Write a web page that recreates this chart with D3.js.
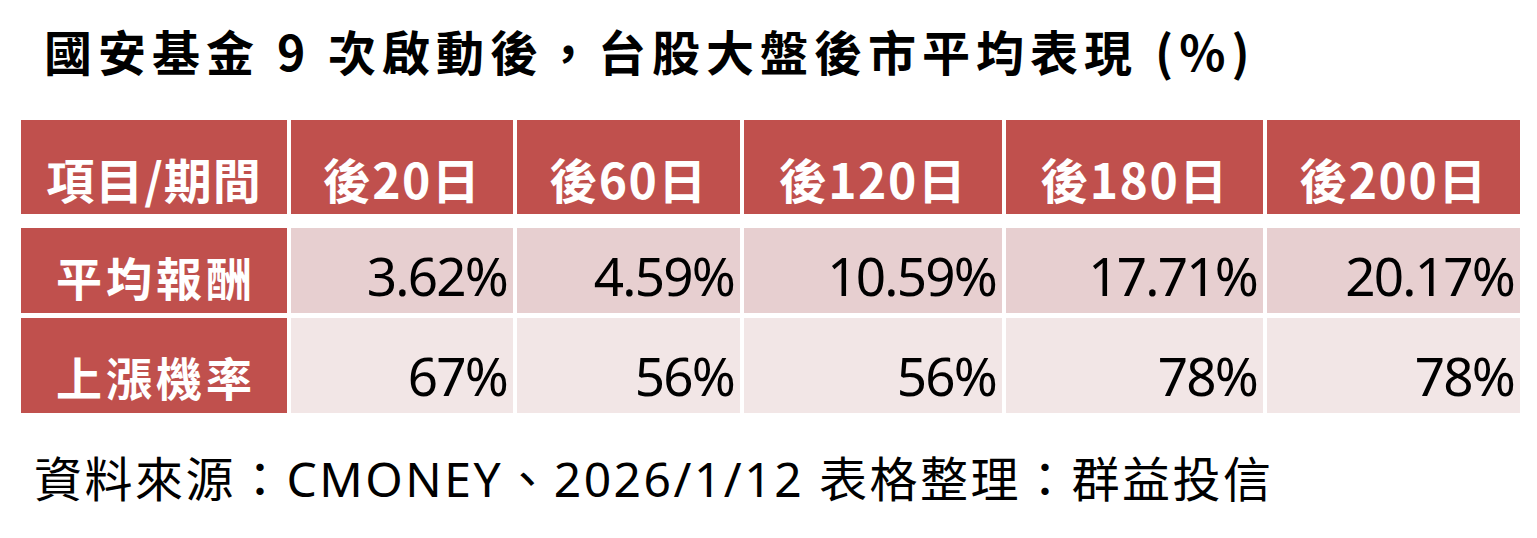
<!DOCTYPE html>
<html>
<head>
<meta charset="utf-8">
<script src="https://cdn.jsdelivr.net/npm/d3@7"></script>
<style>
  html, body { margin: 0; padding: 0; background: #fff; }
  svg { display: block; }
  .cjk { font-family: "Noto Sans CJK TC", "Noto Sans", sans-serif; }
  .num { font-family: "Noto Sans", "Noto Sans CJK TC", sans-serif; }
</style>
</head>
<body>
<div id="chart"></div>
<script>
// Data
const title = '國安基金 9 次啟動後，台股大盤後市平均表現 (%)';
const source = '資料來源：CMONEY、2026/1/12 表格整理：群益投信';
const cornerLabel = '項目/期間';
const periods = ['後20日', '後60日', '後120日', '後180日', '後200日'];
const rowLabels = ['平均報酬', '上漲機率'];
const avgReturn = [3.62, 4.59, 10.59, 17.71, 20.17];
const upProb = [67, 56, 56, 78, 78];

const rows = [
    { label: rowLabels[0], values: avgReturn, fmt: d => d.toFixed(2) + '%', fill: '#e7cfd0' },
    { label: rowLabels[1], values: upProb, fmt: d => d + '%', fill: '#f2e6e6' }
];

const W = 1537, H = 538;
const red = '#c0504d';

const svg = d3.select('#chart').append('svg')
    .attr('width', W)
    .attr('height', H);

// Column layout: first column wider, then the five periods
const colWidths = [266, 222, 223, 258, 257, 253];
const gap = 4;
const colX = [];
colWidths.reduce((x, w, i) => { colX[i] = x; return x + w + gap; }, 21);

// Row layout (header, row 1, row 2)
const rowTop = [120, 228, 318];
const rowH = [94, 85, 95];

// Title
svg.append('text')
    .attr('class', 'cjk')
    .attr('x', 44)
    .attr('y', 71)
    .style('font-size', '48px')
    .style('font-weight', 700)
    .style('letter-spacing', '6px')
    .attr('fill', '#000')
    .text(title);

// Header row
const header = [cornerLabel].concat(periods);
const headG = svg.append('g');
headG.selectAll('rect')
    .data(header)
    .join('rect')
    .attr('x', (d, i) => colX[i])
    .attr('y', rowTop[0])
    .attr('width', (d, i) => colWidths[i])
    .attr('height', rowH[0])
    .attr('fill', red);

headG.selectAll('text')
    .data(header)
    .join('text')
    .attr('class', 'cjk')
    .attr('x', (d, i) => colX[i] + colWidths[i] / 2)
    .attr('y', rowTop[0] + 79)
    .attr('text-anchor', 'middle')
    .style('font-size', '48px')
    .style('font-weight', 700)
    .style('letter-spacing', (d, i) => i === 0 ? '1px' : '1.5px')
    .attr('fill', '#fff')
    .text(d => d);

// Data rows
rows.forEach((r, ri) => {
    const top = rowTop[ri + 1], h = rowH[ri + 1];
    const g = svg.append('g');

    g.append('rect')
        .attr('x', colX[0])
        .attr('y', top)
        .attr('width', colWidths[0])
        .attr('height', h)
        .attr('fill', red);

    g.append('text')
        .attr('class', 'cjk')
        .attr('x', colX[0] + colWidths[0] / 2 + 2)
        .attr('y', top + h - 17)
        .attr('text-anchor', 'middle')
        .style('font-size', '46px')
        .style('font-weight', 700)
        .style('letter-spacing', '4px')
        .attr('fill', '#fff')
        .text(r.label);

    g.selectAll('rect.cell')
        .data(r.values)
        .join('rect')
        .attr('class', 'cell')
        .attr('x', (d, i) => colX[i + 1])
        .attr('y', top)
        .attr('width', (d, i) => colWidths[i + 1])
        .attr('height', h)
        .attr('fill', r.fill);

    g.selectAll('text.val')
        .data(r.values)
        .join('text')
        .attr('class', 'val num')
        .attr('x', (d, i) => colX[i + 1] + colWidths[i + 1] - 6)
        .attr('y', top + h - 17)
        .attr('text-anchor', 'end')
        .style('font-size', '53px')
        .style('letter-spacing', '-1.8px')
        .attr('fill', '#000')
        .text(r.fmt);
});

// Source line
svg.append('text')
    .attr('class', 'num')
    .attr('x', 34)
    .attr('y', 497)
    .style('font-size', '48px')
    .style('letter-spacing', '2.5px')
    .attr('fill', '#000')
    .text(source);
</script>
</body>
</html>
